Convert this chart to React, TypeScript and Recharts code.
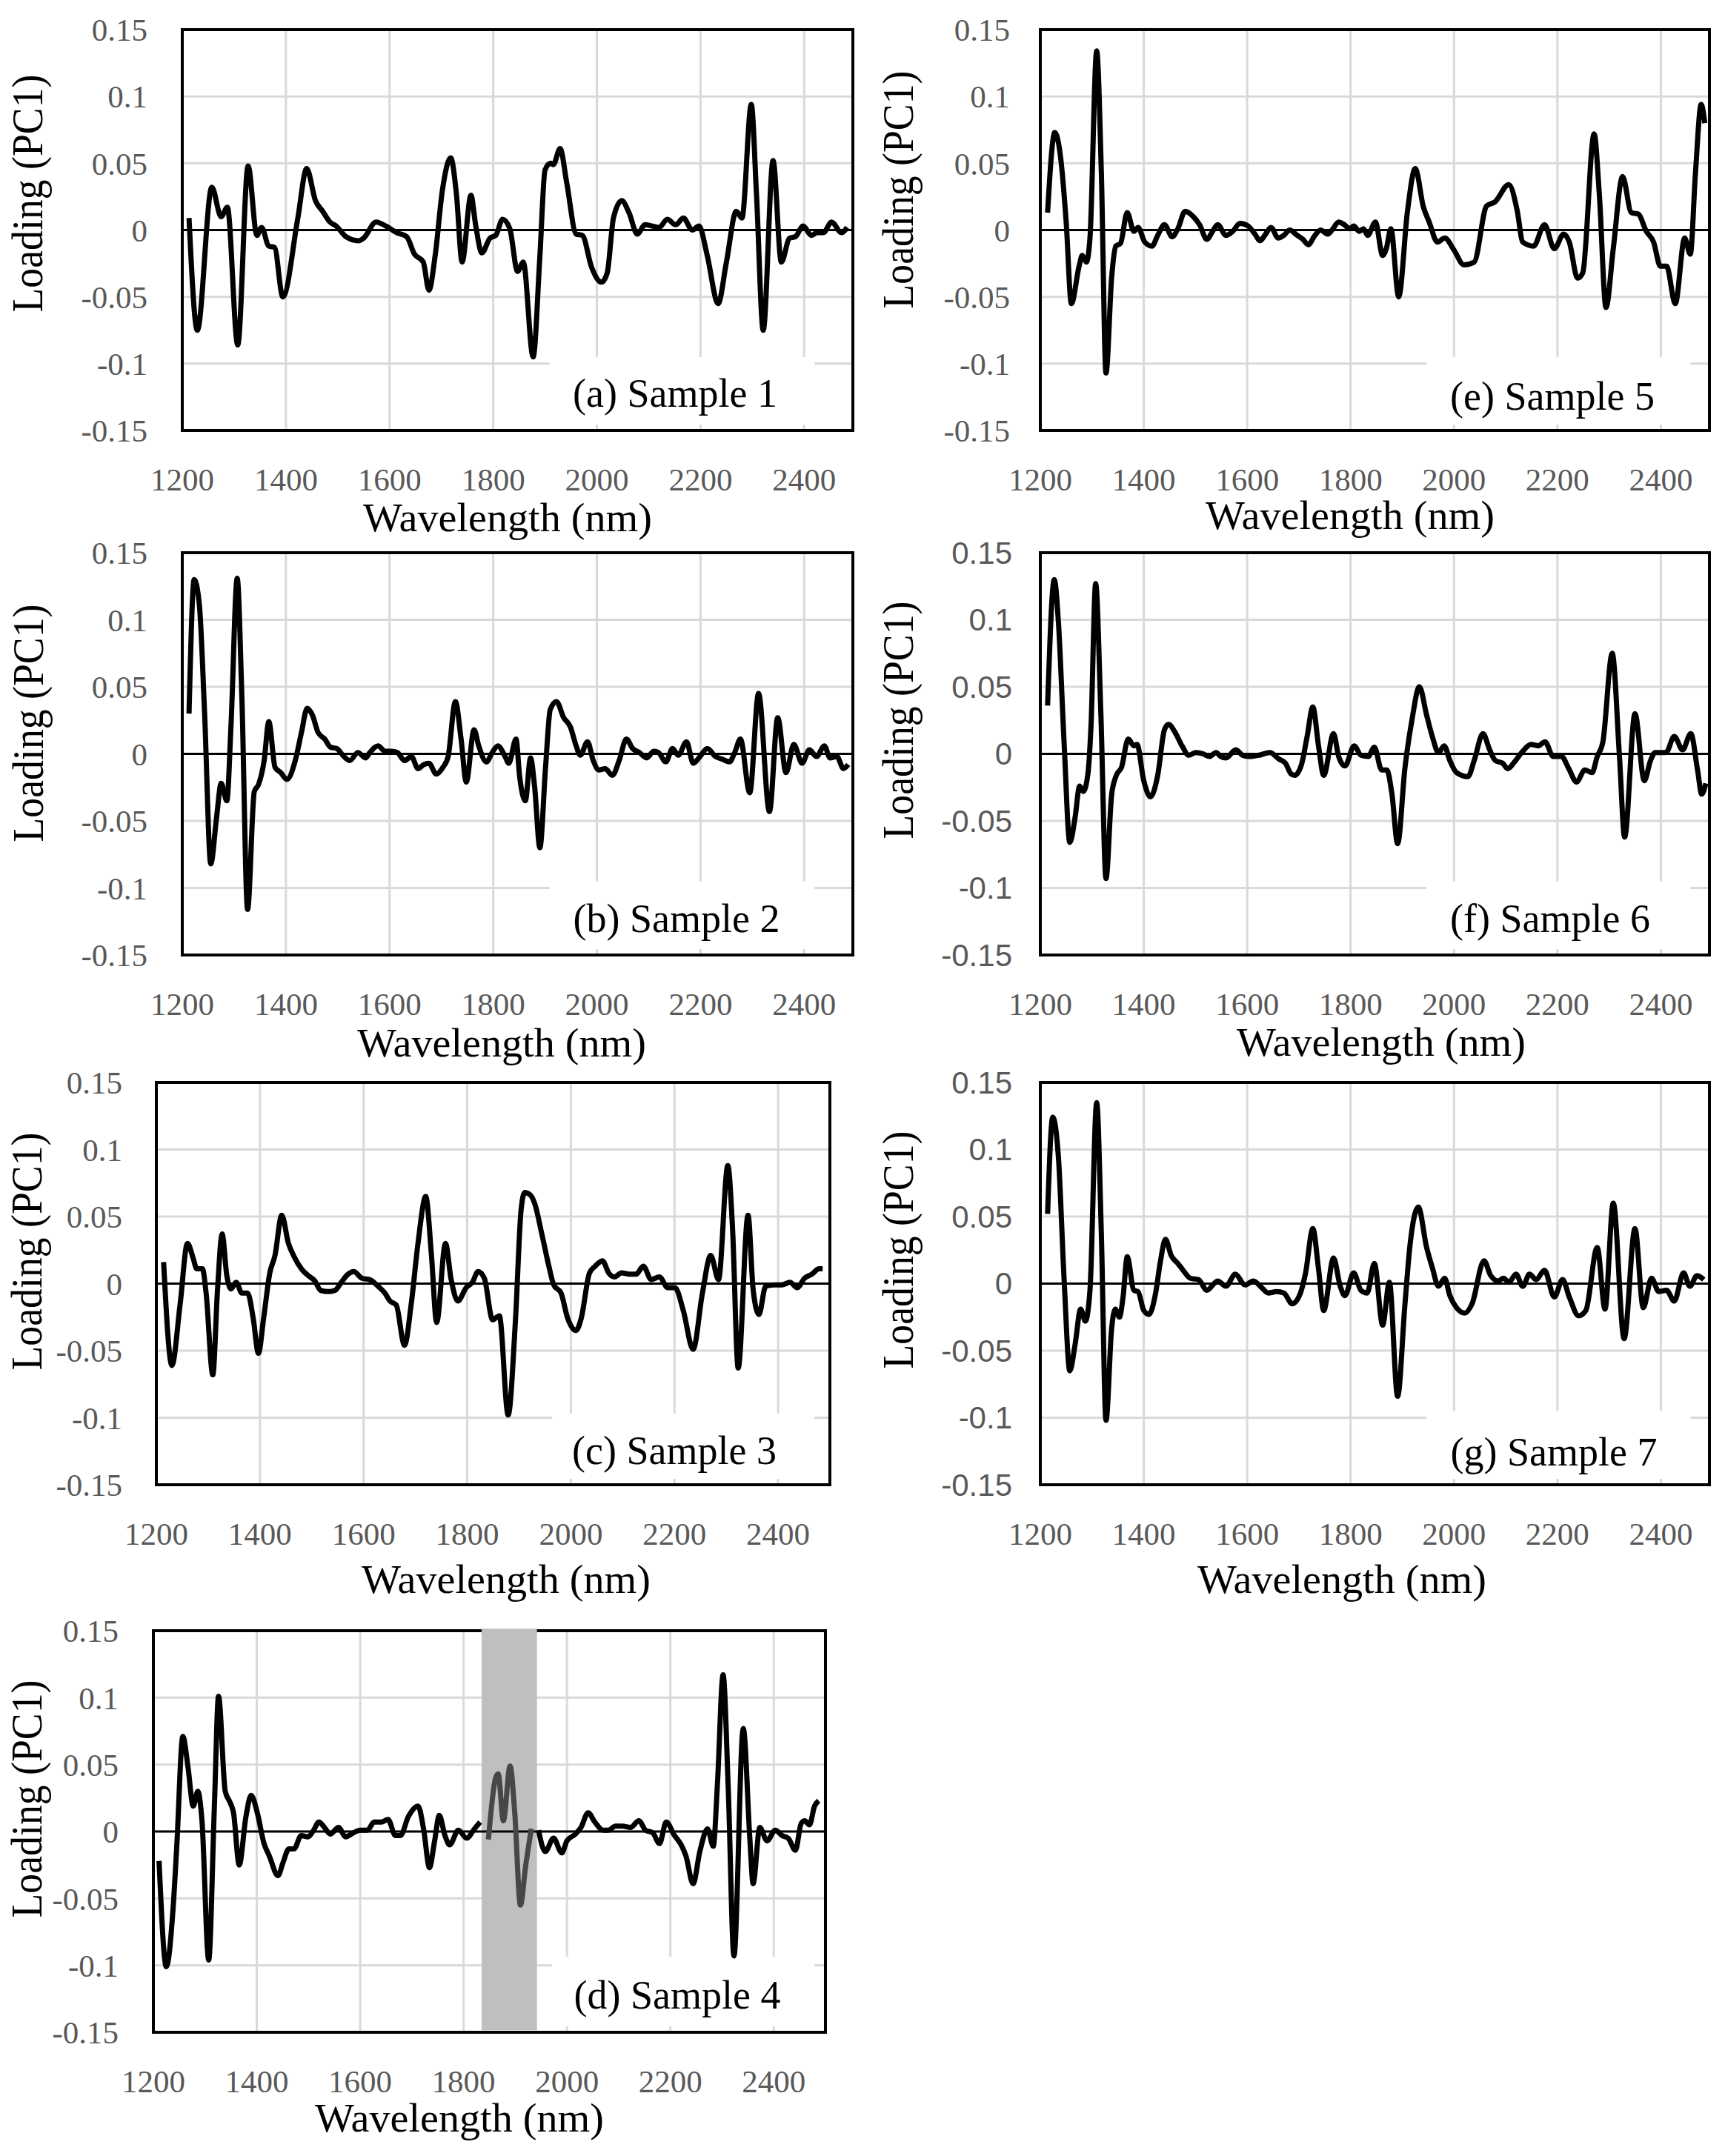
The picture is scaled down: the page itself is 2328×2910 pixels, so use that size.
import { CartesianGrid, Line, LineChart, ReferenceArea, ReferenceLine, XAxis, YAxis } from "recharts";

type Point = [number, number];

// wavelength (nm), PC1 loading
const sample1: Point[] = [
  [1213, 0.009], [1229, -0.075], [1257, 0.032], [1275, 0.01], [1287, 0.017], [1307, -0.086],
  [1327, 0.048], [1344, -0.004], [1353, 0.002], [1367, -0.012], [1378, -0.013], [1394, -0.05],
  [1423, 0.009], [1440, 0.046], [1457, 0.022], [1471, 0.014], [1485, 0.006], [1497, 0.003],
  [1516, -0.005], [1540, -0.008], [1550, -0.006], [1574, 0.006], [1593, 0.003], [1614, -0.002],
  [1633, -0.005], [1648, -0.018], [1665, -0.024], [1676, -0.045], [1688, -0.019], [1702, 0.03],
  [1718, 0.054], [1729, 0.027], [1740, -0.024], [1757, 0.026], [1766, 0.004], [1778, -0.017],
  [1794, -0.006], [1805, -0.004], [1818, 0.008], [1832, 0.001], [1847, -0.031], [1858, -0.024],
  [1877, -0.095], [1890, -0.02], [1900, 0.045], [1911, 0.05], [1916, 0.049], [1929, 0.061],
  [1942, 0.035], [1960, -0.003], [1972, -0.004], [1990, -0.028], [2009, -0.039], [2020, -0.032],
  [2032, 0.009], [2048, 0.022], [2062, 0.013], [2078, -0.003], [2093, 0.004], [2107, 0.003],
  [2120, 0.002], [2136, 0.008], [2152, 0.004], [2167, 0.009], [2184, 0], [2197, 0.003],
  [2213, -0.019], [2234, -0.055], [2250, -0.024], [2269, 0.014], [2280, 0.009], [2298, 0.094],
  [2308, 0.027], [2321, -0.075], [2340, 0.052], [2356, -0.024], [2372, -0.006], [2383, -0.005],
  [2398, 0.003], [2414, -0.004], [2425, -0.002], [2437, -0.002], [2453, 0.006], [2472, -0.002],
  [2483, 0.002],
];

const sample2: Point[] = [
  [1213, 0.03], [1223, 0.13], [1233, 0.111], [1243, 0.031], [1255, -0.082], [1266, -0.048],
  [1275, -0.022], [1286, -0.035], [1294, 0.021], [1306, 0.131], [1315, 0.042], [1326, -0.116],
  [1339, -0.028], [1347, -0.023], [1358, -0.005], [1367, 0.024], [1379, -0.01], [1390, -0.014],
  [1402, -0.019], [1418, -0.005], [1430, 0.016], [1441, 0.034], [1451, 0.029], [1462, 0.016],
  [1475, 0.011], [1486, 0.005], [1498, 0.004], [1512, -0.002], [1523, -0.005], [1539, 0.001],
  [1554, -0.003], [1562, 0.001], [1578, 0.006], [1591, 0.002], [1604, 0.002], [1615, 0.001],
  [1629, -0.005], [1642, -0.002], [1655, -0.011], [1666, -0.008], [1676, -0.007], [1690, -0.015],
  [1703, -0.01], [1713, -0.002], [1727, 0.039], [1738, 0.011], [1748, -0.021], [1763, 0.018],
  [1772, 0.006], [1787, -0.006], [1798, 0.001], [1809, 0.006], [1823, -0.002], [1830, -0.007],
  [1844, 0.011], [1851, -0.017], [1862, -0.035], [1872, -0.003], [1880, -0.025], [1890, -0.07],
  [1901, -0.01], [1910, 0.033], [1922, 0.039], [1936, 0.027], [1949, 0.02], [1960, 0.006],
  [1968, -0.001], [1982, 0.009], [1993, -0.005], [2004, -0.012], [2016, -0.011], [2030, -0.016],
  [2043, -0.005], [2057, 0.011], [2069, 0.004], [2082, 0.001], [2096, -0.003], [2110, 0.002],
  [2119, 0.001], [2133, -0.006], [2146, 0.004], [2157, -0.001], [2173, 0.009], [2186, -0.007],
  [2199, -0.002], [2213, 0.004], [2229, -0.002], [2242, -0.004], [2256, -0.006], [2266, 0.001],
  [2277, 0.011], [2295, -0.029], [2312, 0.045], [2333, -0.043], [2349, 0.027], [2365, -0.014],
  [2380, 0.007], [2396, -0.007], [2410, 0.003], [2424, -0.002], [2439, 0.006], [2450, -0.003],
  [2463, -0.002], [2476, -0.011], [2485, -0.008],
];

const sample3: Point[] = [
  [1214, 0.016], [1230, -0.061], [1246, -0.015], [1260, 0.03], [1271, 0.019], [1278, 0.011],
  [1289, 0.011], [1296, -0.007], [1309, -0.068], [1318, -0.005], [1327, 0.037], [1336, 0.006],
  [1344, -0.004], [1354, 0.001], [1365, -0.007], [1376, -0.007], [1387, -0.026], [1397, -0.052],
  [1407, -0.026], [1419, 0.008], [1429, 0.021], [1442, 0.051], [1455, 0.03], [1466, 0.02],
  [1480, 0.011], [1493, 0.006], [1506, 0.002], [1517, -0.005], [1533, -0.006], [1545, -0.005],
  [1557, 0.001], [1570, 0.007], [1581, 0.009], [1597, 0.004], [1612, 0.003], [1628, -0.002],
  [1641, -0.007], [1651, -0.013], [1663, -0.016], [1679, -0.046], [1692, -0.015], [1705, 0.03],
  [1720, 0.065], [1731, 0.021], [1741, -0.029], [1758, 0.03], [1769, 0.003], [1782, -0.013],
  [1798, -0.003], [1810, 0.001], [1821, 0.009], [1833, 0.004], [1849, -0.027], [1862, -0.024],
  [1879, -0.098], [1893, -0.028], [1904, 0.055], [1911, 0.068], [1922, 0.066], [1930, 0.06],
  [1944, 0.037], [1957, 0.014], [1967, -0.001], [1981, -0.007], [1994, -0.026], [2010, -0.035],
  [2020, -0.026], [2036, 0.008], [2047, 0.013], [2061, 0.017], [2073, 0.008], [2084, 0.005],
  [2098, 0.008], [2113, 0.007], [2126, 0.007], [2140, 0.013], [2155, 0.003], [2171, 0.005],
  [2187, -0.003], [2201, -0.003], [2217, -0.02], [2236, -0.049], [2254, -0.007], [2270, 0.021],
  [2285, 0.003], [2303, 0.088], [2312, 0.042], [2323, -0.063], [2342, 0.051], [2352, -0.005],
  [2363, -0.023], [2376, -0.002], [2391, -0.001], [2407, -0.001], [2423, 0.001], [2437, -0.003],
  [2451, 0.004], [2465, 0.007], [2479, 0.011], [2486, 0.011],
];

const sample4: Point[] = [
  [1211, -0.022], [1225, -0.101], [1238, -0.058], [1245, -0.013], [1257, 0.071], [1267, 0.048],
  [1277, 0.019], [1286, 0.03], [1294, 0.008], [1307, -0.096], [1318, 0.019], [1326, 0.101],
  [1339, 0.03], [1348, 0.022], [1355, 0.014], [1366, -0.025], [1379, 0.011], [1389, 0.027],
  [1401, 0.014], [1414, -0.009], [1424, -0.018], [1441, -0.033], [1451, -0.023], [1462, -0.013],
  [1472, -0.013], [1486, -0.003], [1499, -0.004], [1510, 0.001], [1520, 0.007], [1531, 0.003],
  [1542, -0.002], [1558, 0.003], [1572, -0.004], [1587, -0.001], [1600, 0.001], [1614, 0.001],
  [1627, 0.007], [1641, 0.007], [1654, 0.009], [1668, -0.003], [1678, -0.003], [1693, 0.011],
  [1712, 0.019], [1723, 0.001], [1734, -0.027], [1744, -0.007], [1753, 0.012], [1764, -0.003],
  [1773, -0.01], [1790, 0.001], [1806, -0.005], [1821, 0.002], [1832, 0.007],
  [1848, -0.006], [1862, 0.04], [1867, 0.043], [1877, 0.008], [1890, 0.049], [1899, 0.014],
  [1910, -0.055], [1920, -0.026], [1931, 0.002],
  [1945, 0.001], [1958, -0.015], [1974, -0.005], [1990, -0.016], [2000, -0.007], [2016, -0.002],
  [2027, 0.003], [2041, 0.014], [2054, 0.007], [2070, 0.001], [2080, 0.001], [2094, 0.004],
  [2107, 0.004], [2123, 0.003], [2139, 0.008], [2152, 0.001], [2166, -0.001], [2179, -0.009],
  [2192, 0.007], [2208, -0.003], [2221, -0.01], [2230, -0.018], [2244, -0.039], [2257, -0.015],
  [2272, 0.002], [2283, -0.011], [2291, 0.035], [2302, 0.117], [2312, 0.032], [2323, -0.093],
  [2341, 0.077], [2354, -0.007], [2360, -0.039], [2373, 0.003], [2387, -0.007], [2403, 0.001],
  [2416, -0.003], [2428, -0.005], [2442, -0.014], [2453, 0.006], [2460, 0.008], [2469, 0.005],
  [2479, 0.019], [2487, 0.023],
];

const sample5: Point[] = [
  [1214, 0.013], [1228, 0.073], [1239, 0.055], [1250, 0.006], [1260, -0.055], [1275, -0.027],
  [1281, -0.019], [1289, -0.024], [1296, -0.006], [1309, 0.134], [1318, 0.043], [1327, -0.107],
  [1338, -0.035], [1346, -0.012], [1355, -0.01], [1368, 0.013], [1381, -0.001], [1389, 0.002],
  [1402, -0.009], [1416, -0.012], [1427, -0.004], [1440, 0.004], [1455, -0.005], [1466, 0.001],
  [1480, 0.014], [1496, 0.01], [1508, 0.004], [1522, -0.007], [1533, -0.001], [1543, 0.004],
  [1559, -0.004], [1572, -0.001], [1586, 0.005], [1602, 0.003], [1615, -0.003], [1625, -0.008],
  [1634, -0.004], [1646, 0.002], [1660, -0.006], [1671, -0.004], [1682, 0], [1697, -0.004],
  [1708, -0.007], [1718, -0.011], [1731, -0.004], [1742, 0], [1756, -0.003], [1764, 0],
  [1777, 0.006], [1788, 0.004], [1798, 0.001], [1806, 0.003], [1817, -0.001], [1825, 0.001],
  [1833, -0.004], [1848, 0.006], [1862, -0.019], [1869, -0.014], [1878, 0.001], [1893, -0.05],
  [1910, 0.014], [1925, 0.046], [1941, 0.017], [1952, 0.006], [1968, -0.009], [1982, -0.006],
  [2000, -0.015], [2019, -0.026], [2039, -0.024], [2063, 0.018], [2079, 0.021], [2106, 0.034],
  [2122, 0.015], [2133, -0.009], [2154, -0.012], [2175, 0.004], [2194, -0.014], [2212, -0.003],
  [2223, -0.009], [2239, -0.036], [2249, -0.032], [2271, 0.072], [2281, 0.027], [2294, -0.058],
  [2308, -0.014], [2326, 0.04], [2343, 0.013], [2356, 0.012], [2372, -0.001], [2386, -0.009],
  [2399, -0.027], [2411, -0.027], [2428, -0.055], [2446, -0.006], [2457, -0.018], [2467, 0.043],
  [2478, 0.094], [2485, 0.08],
];

const sample6: Point[] = [
  [1214, 0.036], [1227, 0.13], [1235, 0.098], [1246, 0.008], [1257, -0.066], [1267, -0.048],
  [1276, -0.024], [1283, -0.028], [1292, -0.015], [1298, 0.021], [1307, 0.127], [1317, 0.031],
  [1327, -0.093], [1338, -0.03], [1347, -0.016], [1357, -0.01], [1370, 0.011], [1381, 0.006],
  [1387, 0.007], [1400, -0.02], [1413, -0.032], [1427, -0.016], [1440, 0.018], [1448, 0.022],
  [1462, 0.015], [1474, 0.006], [1487, -0.001], [1501, 0.001], [1515, 0], [1527, -0.002],
  [1540, 0.001], [1549, -0.002], [1559, -0.003], [1578, 0.003], [1591, -0.001], [1602, -0.002],
  [1623, -0.001], [1644, 0.001], [1662, -0.004], [1674, -0.007], [1685, -0.015], [1692, -0.016],
  [1705, -0.008], [1716, 0.013], [1727, 0.035], [1738, 0.006], [1748, -0.016], [1767, 0.015],
  [1777, -0.002], [1789, -0.009], [1807, 0.006], [1820, -0.001], [1834, -0.002], [1846, 0.005],
  [1860, -0.012], [1870, -0.012], [1880, -0.03], [1891, -0.067], [1905, -0.011], [1919, 0.026],
  [1933, 0.05], [1947, 0.029], [1958, 0.013], [1970, 0.001], [1981, 0.006], [1992, -0.005],
  [2005, -0.014], [2027, -0.017], [2039, -0.005], [2056, 0.015], [2069, 0.003], [2080, -0.005],
  [2094, -0.007], [2104, -0.011], [2117, -0.006], [2133, 0.002], [2149, 0.007], [2163, 0.006],
  [2176, 0.009], [2192, -0.002], [2208, -0.002], [2222, -0.011], [2237, -0.021], [2253, -0.012],
  [2267, -0.014], [2277, -0.002], [2288, 0.009], [2306, 0.075], [2320, -0.002], [2330, -0.062],
  [2350, 0.03], [2368, -0.02], [2380, -0.005], [2389, 0.001], [2410, 0.001], [2426, 0.013],
  [2442, 0.003], [2458, 0.015], [2471, -0.012], [2479, -0.03], [2487, -0.022],
];

const sample7: Point[] = [
  [1214, 0.052], [1224, 0.124], [1235, 0.094], [1246, 0.003], [1257, -0.065], [1267, -0.046],
  [1278, -0.019], [1287, -0.028], [1296, -0.005], [1309, 0.135], [1318, 0.037], [1327, -0.102],
  [1338, -0.033], [1345, -0.019], [1353, -0.025], [1360, -0.01], [1368, 0.02], [1381, -0.005],
  [1389, -0.006], [1400, -0.02], [1410, -0.023], [1423, -0.007], [1432, 0.016], [1442, 0.033],
  [1453, 0.021], [1466, 0.015], [1476, 0.01], [1490, 0.004], [1506, 0.003], [1522, -0.005],
  [1543, 0.002], [1559, -0.002], [1577, 0.007], [1596, -0.001], [1612, 0.002], [1628, -0.003],
  [1641, -0.007], [1657, -0.006], [1671, -0.007], [1687, -0.015], [1703, -0.007], [1713, 0.008],
  [1727, 0.041], [1738, 0.011], [1748, -0.02], [1767, 0.019], [1780, -0.002], [1789, -0.009],
  [1806, 0.008], [1820, -0.005], [1832, -0.007], [1846, 0.015], [1862, -0.031], [1875, 0.001],
  [1891, -0.084], [1905, -0.016], [1915, 0.029], [1931, 0.057], [1947, 0.027], [1958, 0.012],
  [1970, -0.002], [1982, 0.004], [1992, -0.009], [2005, -0.018], [2021, -0.022], [2035, -0.015],
  [2058, 0.017], [2071, 0.006], [2085, 0.002], [2096, 0.004], [2106, 0.001], [2120, 0.007],
  [2133, -0.002], [2146, 0.007], [2159, 0.003], [2175, 0.01], [2194, -0.01], [2210, 0.003],
  [2223, -0.01], [2241, -0.024], [2255, -0.02], [2277, 0.027], [2292, -0.019], [2308, 0.06],
  [2329, -0.041], [2350, 0.041], [2366, -0.018], [2382, 0.004], [2396, -0.006], [2411, -0.005],
  [2426, -0.013], [2444, 0.008], [2456, -0.002], [2470, 0.006], [2483, 0.003],
];

const xTicks = [1200, 1400, 1600, 1800, 2000, 2200, 2400];
const yTicks = [-0.15, -0.1, -0.05, 0, 0.05, 0.1, 0.15];
const sampleLabels = ["(a) Sample 1", "(b) Sample 2", "(c) Sample 3", "(d) Sample 4", "(e) Sample 5", "(f) Sample 6", "(g) Sample 7"];
const band4: [number, number] = [1835, 1942];

const serif = '"Liberation Serif", "Times New Roman", serif';
const sans = '"Liberation Sans", Arial, sans-serif';

const ML = 240;
const MT = 40;
const MR = 20;
const MB = 110;

type Panel = {
  data: Point[];
  label: string;
  left: number;
  top: number;
  w: number;
  h: number;
  xMax: number;
  box: [number, number, number];
  ySans: boolean;
  yGap: number;
  yTitle: [number, number];
  xTitle: [number, number];
  labelAt: [number, number];
  band?: [number, number];
};

const panels: Panel[] = [
  { data: sample1, label: sampleLabels[0], left: 246, top: 40, w: 905, h: 541, xMax: 2494, box: [1909, 2420, -0.095], ySans: false, yGap: 47, yTitle: [57, 261], xTitle: [685, 717], labelAt: [911, 531] },
  { data: sample2, label: sampleLabels[1], left: 246, top: 746, w: 905, h: 543, xMax: 2494, box: [1909, 2420, -0.095], ySans: false, yGap: 47, yTitle: [58, 976], xTitle: [677, 1426], labelAt: [913, 1240] },
  { data: sample3, label: sampleLabels[2], left: 211, top: 1461, w: 909, h: 543, xMax: 2500, box: [1964, 2470, -0.097], ySans: false, yGap: 46, yTitle: [56, 1689], xTitle: [683, 2150], labelAt: [910, 1958] },
  { data: sample4, label: sampleLabels[3], left: 207, top: 2201, w: 907, h: 542, xMax: 2500, box: [1971, 2478, -0.0935], ySans: false, yGap: 47, yTitle: [56, 2428], xTitle: [620, 2877], labelAt: [914, 2693], band: band4 },
  { data: sample5, label: sampleLabels[4], left: 1404, top: 40, w: 903, h: 541, xMax: 2494, box: [1947, 2457, -0.095], ySans: false, yGap: 41, yTitle: [1232, 256], xTitle: [1822, 714], labelAt: [2095, 535] },
  { data: sample6, label: sampleLabels[5], left: 1404, top: 746, w: 903, h: 543, xMax: 2494, box: [1947, 2457, -0.095], ySans: true, yGap: 38, yTitle: [1232, 972], xTitle: [1864, 1425], labelAt: [2092, 1240] },
  { data: sample7, label: sampleLabels[6], left: 1404, top: 1461, w: 903, h: 543, xMax: 2494, box: [1947, 2457, -0.095], ySans: true, yGap: 38, yTitle: [1232, 1687], xTitle: [1811, 2150], labelAt: [2097, 1960] },
];

const fmt = (v: number) => (v === 0 ? "0" : String(Number(v.toFixed(2))));

function LoadingPanel({ p }: { p: Panel }) {
  const band = p.band;
  const inBand = (x: number) => !!band && x > band[0] && x < band[1];
  const rows: { x: number; y: number | null }[] = p.data
    .filter(([x]) => !inBand(x))
    .map(([x, y]) => ({ x, y }));
  if (band) {
    rows.push({ x: band[0], y: null }, { x: band[1], y: null });
    rows.sort((a, b) => a.x - b.x);
  }
  const bandRows = p.data.filter(([x]) => inBand(x)).map(([x, y]) => ({ x, y }));

  return (
    <div style={{ position: "absolute", left: p.left - ML, top: p.top - MT }}>
      <LineChart width={p.w + ML + MR} height={p.h + MT + MB} margin={{ top: MT, right: MR, bottom: 0, left: 0 }}>
        <CartesianGrid stroke="#d9d9d9" strokeWidth={3} />
        <XAxis
          type="number"
          dataKey="x"
          domain={[1200, p.xMax]}
          ticks={xTicks}
          allowDataOverflow
          interval={0}
          tickLine={false}
          axisLine={false}
          tickSize={0}
          tickMargin={50}
          height={MB}
          tick={{ fill: "#595959", fontSize: 43, fontFamily: serif }}
        />
        <YAxis
          type="number"
          domain={[-0.15, 0.15]}
          ticks={yTicks}
          allowDataOverflow
          interval={0}
          width={ML}
          tickLine={false}
          axisLine={false}
          tickSize={0}
          tickMargin={p.yGap}
          tickFormatter={fmt}
          tick={{ fill: "#595959", fontSize: p.ySans ? 42 : 43, fontFamily: p.ySans ? sans : serif }}
        />
        <ReferenceArea x1={p.box[0]} x2={p.box[1]} y1={-0.1456} y2={p.box[2]} fill="#ffffff" fillOpacity={1} stroke="none" ifOverflow="visible" />
        <ReferenceArea x1={1200} x2={p.xMax} y1={-0.15} y2={0.15} fill="none" stroke="#000000" strokeWidth={4} ifOverflow="visible" />
        {band && (
          <ReferenceArea x1={band[0]} x2={band[1]} y1={-0.1485} y2={0.1515} fill="#bfbfbf" fillOpacity={1} stroke="none" ifOverflow="visible" />
        )}
        <ReferenceLine y={0} stroke="#000000" strokeWidth={3} />
        <Line
          data={rows}
          dataKey="y"
          type="monotone"
          stroke="#000000"
          strokeWidth={7}
          dot={false}
          activeDot={false}
          connectNulls={false}
          isAnimationActive={false}
        />
        {band && (
          <Line
            data={bandRows}
            dataKey="y"
            type="monotone"
            stroke="#474747"
            strokeWidth={7}
            dot={false}
            activeDot={false}
            isAnimationActive={false}
          />
        )}
      </LineChart>
    </div>
  );
}

export default function App() {
  return (
    <div style={{ position: "absolute", left: 0, top: 0, width: 2328, height: 2910, background: "#ffffff", overflow: "hidden" }}>
      {panels.map((p) => (
        <LoadingPanel key={p.label} p={p} />
      ))}
      <svg width={2328} height={2910} style={{ position: "absolute", left: 0, top: 0, pointerEvents: "none" }}>
        {panels.map((p) => (
          <g key={p.label}>
            <text
              transform={`translate(${p.yTitle[0]}, ${p.yTitle[1]}) rotate(-90)`}
              textAnchor="middle"
              fontFamily={serif}
              fontSize={60}
              fill="#000000"
              textLength={321}
              lengthAdjust="spacingAndGlyphs"
            >
              Loading (PC1)
            </text>
            <text
              x={p.xTitle[0]}
              y={p.xTitle[1]}
              textAnchor="middle"
              fontFamily={serif}
              fontSize={54}
              fill="#000000"
              textLength={390}
              lengthAdjust="spacingAndGlyphs"
            >
              Wavelength (nm)
            </text>
            <text x={p.labelAt[0]} y={p.labelAt[1]} textAnchor="middle" dominantBaseline="central" fontFamily={serif} fontSize={54} fill="#000000">
              {p.label}
            </text>
          </g>
        ))}
      </svg>
    </div>
  );
}
